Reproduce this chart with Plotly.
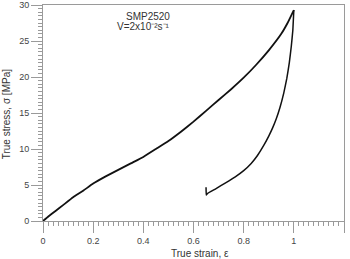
import plotly.graph_objects as go

# Loading branch
load_strain = [0, 0.02, 0.05, 0.08, 0.12, 0.16, 0.2, 0.25, 0.3, 0.35, 0.4, 0.45, 0.5,
               0.55, 0.6, 0.65, 0.7, 0.75, 0.8, 0.85, 0.9, 0.95, 0.975, 1.0]
load_stress = [0, 0.6, 1.4, 2.2, 3.3, 4.2, 5.2, 6.2, 7.1, 8.0, 8.9, 10.0, 11.1,
               12.4, 13.8, 15.3, 16.8, 18.3, 19.9, 21.7, 23.7, 26.0, 27.5, 29.3]

# Unloading branch
unload_strain = [1.0, 0.996, 0.99, 0.982, 0.972, 0.96, 0.945, 0.93, 0.915, 0.90, 0.88,
                 0.855, 0.83, 0.80, 0.765, 0.728, 0.69, 0.655, 0.651, 0.65]
unload_stress = [29.3, 26.5, 24.3, 22.0, 19.8, 17.8, 15.8, 14.2, 12.9, 11.8, 10.5,
                 9.1, 8.0, 7.0, 6.1, 5.3, 4.5, 3.8, 3.6, 4.7]

x_ticks = [0, 0.2, 0.4, 0.6, 0.8, 1, 1.2]
y_ticks = [0, 5, 10, 15, 20, 25, 30]

font_family = "Arial, Liberation Sans, sans-serif"
axis_col = "#9a9a9a"

fig = go.Figure()
fig.add_trace(go.Scatter(x=load_strain, y=load_stress, mode="lines",
                         line=dict(color="#111111", width=1.8, shape="spline", smoothing=0.3),
                         showlegend=False))
fig.add_trace(go.Scatter(x=unload_strain, y=unload_stress, mode="lines",
                         line=dict(color="#111111", width=1.5, shape="spline", smoothing=0.3),
                         showlegend=False))

fig.add_annotation(x=0.42, y=28.4, xref="x", yref="y", text="SMP2520", showarrow=False,
                   font=dict(family=font_family, size=10, color="#333333"))
fig.add_annotation(x=0.40, y=27.0, xref="x", yref="y",
                   text="V=2x10⁻²s⁻¹", showarrow=False,
                   font=dict(family=font_family, size=10, color="#333333"))

# axis titles
fig.add_annotation(x=0.52, y=0, xref="paper", yref="paper", yshift=-32, yanchor="middle",
                   text="True strain, ε", showarrow=False,
                   font=dict(family=font_family, size=10, color="#333333"))
fig.add_annotation(x=0, y=0.494, xref="paper", yref="paper", xshift=-37, xanchor="center",
                   yanchor="middle", textangle=-90,
                   text="True stress, σ [MPa]", showarrow=False,
                   font=dict(family=font_family, size=10, color="#333333"))

fig.update_layout(
    width=350, height=259,
    margin=dict(l=43, r=6, t=5, b=38, autoexpand=False),
    paper_bgcolor="white", plot_bgcolor="white",
    font=dict(family=font_family, size=9, color="#444444"),
    xaxis=dict(range=[0, 1.2], tickvals=x_ticks, ticktext=[str(v) for v in x_ticks],
               ticks="outside", ticklen=11, tickwidth=1, tickcolor=axis_col,
               minor=dict(dtick=0.02, ticks="outside", ticklen=4, tickcolor=axis_col),
               showline=True, linecolor=axis_col, linewidth=1, mirror=True,
               showgrid=False, zeroline=False, automargin=False,
               tickfont=dict(size=9, color="#444444")),
    yaxis=dict(range=[0, 30], tickvals=y_ticks,
               ticks="outside", ticklen=11, tickwidth=1, tickcolor=axis_col,
               minor=dict(dtick=0.5, ticks="outside", ticklen=4, tickcolor=axis_col),
               showline=True, linecolor=axis_col, linewidth=1, mirror=True,
               showgrid=False, zeroline=False, automargin=False,
               tickfont=dict(size=9, color="#444444")),
)

fig.write_html("out.html", config={"displayModeBar": False},
               post_script="document.body.style.margin='0';document.body.style.overflow='hidden';")
